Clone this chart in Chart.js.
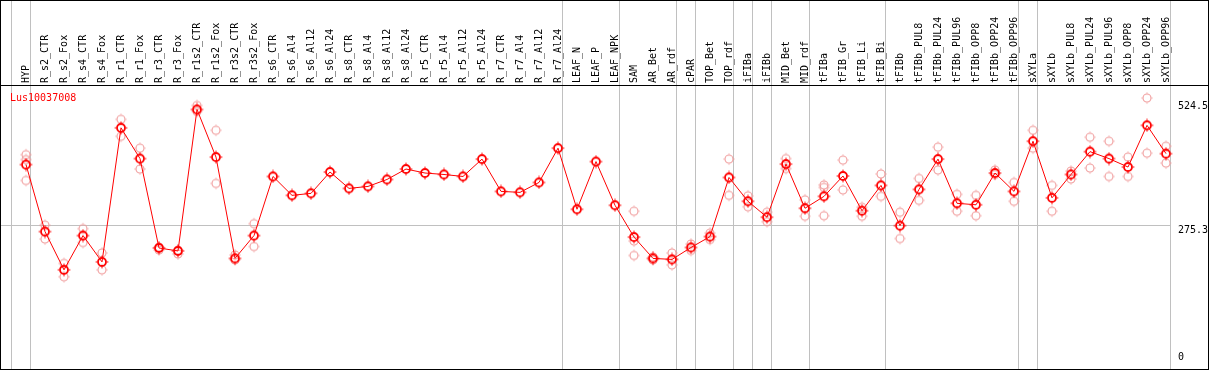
<!DOCTYPE html>
<html>
<head>
<meta charset="utf-8">
<script src="https://cdn.jsdelivr.net/npm/chart.js@4"></script>
<style>
  html, body { margin: 0; padding: 0; background: #fff; }
  #wrap { width: 1209px; height: 370px; }
</style>
</head>
<body>
<div id="wrap"><canvas id="expr-chart" width="1209" height="370"></canvas></div>
<script>
// sample names, left to right
const samples = ['HYP', 'R_s2_CTR', 'R_s2_Fox', 'R_s4_CTR', 'R_s4_Fox', 'R_r1_CTR', 'R_r1_Fox', 'R_r3_CTR', 'R_r3_Fox',
  'R_r1s2_CTR', 'R_r1s2_Fox', 'R_r3s2_CTR', 'R_r3s2_Fox', 'R_s6_CTR', 'R_s6_Al4', 'R_s6_Al12', 'R_s6_Al24',
  'R_s8_CTR', 'R_s8_Al4', 'R_s8_Al12', 'R_s8_Al24', 'R_r5_CTR', 'R_r5_Al4', 'R_r5_Al12', 'R_r5_Al24',
  'R_r7_CTR', 'R_r7_Al4', 'R_r7_Al12', 'R_r7_Al24', 'LEAF_N', 'LEAF_P', 'LEAF_NPK', 'SAM', 'AR_Bet', 'AR_rdf',
  'cPAR', 'TOP_Bet', 'TOP_rdf', 'iFIBa', 'iFIBb', 'MID_Bet', 'MID_rdf', 'tFIBa', 'tFIB_Gr', 'tFIB_Li', 'tFIB_Bi',
  'tFIBb', 'tFIBb_PUL8', 'tFIBb_PUL24', 'tFIBb_PUL96', 'tFIBb_OPP8', 'tFIBb_OPP24', 'tFIBb_OPP96',
  'sXYLa', 'sXYLb', 'sXYLb_PUL8', 'sXYLb_PUL24', 'sXYLb_PUL96', 'sXYLb_OPP8', 'sXYLb_OPP24', 'sXYLb_OPP96'];

// mean expression
const meanVals = [398, 263, 186, 255, 202, 472, 410, 230, 224, 509, 413, 209, 255,
  374, 336, 340, 383, 350, 354, 368, 389, 381, 378, 374, 409, 344, 342, 362, 431,
  308, 404, 316, 252, 209, 207, 231, 253, 372, 324, 292, 399, 310,
  334, 375, 305, 356, 275, 348, 409, 320, 317, 381, 344,
  445, 331, 378, 424, 410, 393, 477, 420];

// replicates (null = hidden behind the mean marker)
const rep1 = [418, 276, 199, 269, 220, 489, 431, 232, 226, 517, 467, 216, 279,
  null, null, null, null, null, null, null, null, null, null, null, null, null, null, null, null,
  null, null, null, 304, 212, 220, 238, 260, 409, 335, 302, 410, 327,
  357, 407, 312, 379, 302, 370, 433, 338, 336, 387, 362,
  467, 356, 385, 453, 445, 413, 532, 435];
const rep2 = [366, 248, 172, 241, 186, 455, 389, 226, 218, 505, 360, 206, 233,
  null, null, null, null, null, null, null, null, null, null, null, null, null, null, null, null,
  null, null, null, 215, 206, 196, 225, 247, 336, 313, 283, 390, 294,
  295, 347, 294, 334, 249, 326, 387, 304, 295, 378, 324,
  431, 304, 369, 391, 374, 374, 421, 401];
const rep3 = [408, null, null, null, null, null, null, null, null, null, null, null, null,
  null, null, null, null, null, null, null, null, null, null, null, null, null, null, null, null,
  null, null, null, 244, null, null, null, null, null, null, null, null, null,
  352, null, null, null, null, null, null, null, null, null, null,
  null, null, null, null, null, null, null, null];

// group separators sit just right of these sample indexes
const groupEnds = [-1, 0, 28, 31, 34, 35, 37, 38, 39, 41, 45, 52, 53, 60];
const yTicks = [524.5, 275.3, 0];
const geneName = 'Lus10037008';

const monoFont = '10px "DejaVu Sans Mono", monospace';

function makeMarker(color, lw, tick) {
    let c = document.createElement('canvas');
    c.width = 14;
    c.height = 14;
    let g = c.getContext('2d');
    g.strokeStyle = color;
    g.lineWidth = lw;
    g.beginPath();
    g.arc(7, 7, 4, 0, Math.PI * 2);
    g.stroke();
    g.fillStyle = color;
    // little ticks on the ring
    g.fillRect(6.5, 3 - tick - lw / 2, 1, tick);
    g.fillRect(6.5, 11 + lw / 2, 1, tick);
    g.fillRect(3 - tick - lw / 2, 6.5, tick, 1);
    g.fillRect(11 + lw / 2, 6.5, tick, 1);
    return c;
}

const redMark = makeMarker('#ff0000', 1.8, 1.5);
const pinkMark = makeMarker('#f09a9a', 1.1, 1);

const framePlugin = {
    id: 'frame',
    beforeDraw(chart) {
        const ctx = chart.ctx;
        const xs = chart.scales.x;
        const ys = chart.scales.y;
        ctx.save();
        ctx.fillStyle = '#c0c0c0';
        let rightSep = 1170;
        groupEnds.forEach(i => {
            let px = Math.round(xs.getPixelForValue(i) + 4);
            ctx.fillRect(px, 0, 1, 369);
            if (i === samples.length - 1) rightSep = px;
        });
        ctx.fillRect(0, Math.round(ys.getPixelForValue(275.3)), rightSep, 1);
        ctx.restore();
    },
    afterDraw(chart) {
        const ctx = chart.ctx;
        const ys = chart.scales.y;
        ctx.save();
        ctx.fillStyle = '#000';
        ctx.fillRect(0, 0, 1209, 1);
        ctx.fillRect(0, 85, 1209, 1);
        ctx.fillRect(0, 369, 1209, 1);
        ctx.fillRect(0, 0, 1, 370);
        ctx.fillRect(1208, 0, 1, 370);

        ctx.font = monoFont;
        ctx.textAlign = 'left';
        ctx.textBaseline = 'middle';
        yTicks.forEach(v => {
            let py = ys.getPixelForValue(v);
            py += v === 0 ? -5 : 5;
            ctx.fillText(String(v), 1178, py);
        });

        ctx.fillStyle = '#ff0000';
        ctx.textBaseline = 'alphabetic';
        ctx.fillText(geneName, 10, 101);
        ctx.restore();
    }
};

let ctx = document.getElementById('expr-chart');

function repSet(vals) {
    return {
        data: vals,
        showLine: false,
        pointStyle: pinkMark,
        pointRadius: 5,
        order: 2
    };
}

let myChart = new Chart(ctx, {
    type: 'line',
    data: {
        labels: samples,
        datasets: [
            {
                data: meanVals,
                borderColor: '#ff0000',
                borderWidth: 1,
                fill: false,
                tension: 0,
                pointStyle: redMark,
                pointRadius: 5,
                order: 1
            },
            repSet(rep1),
            repSet(rep2),
            repSet(rep3)
        ]
    },
    options: {
        responsive: false,
        animation: false,
        events: [],
        layout: { padding: { left: 16.5, right: 0, top: 0, bottom: 1 } },
        plugins: {
            legend: { display: false },
            tooltip: { enabled: false }
        },
        scales: {
            x: {
                position: 'top',
                offset: true,
                afterFit(scale) { scale.height = 86; },
                grid: { display: false, drawTicks: false },
                border: { display: false },
                ticks: {
                    autoSkip: false,
                    minRotation: 90,
                    maxRotation: 90,
                    padding: 3,
                    labelOffset: 12,
                    color: '#000',
                    font: { family: '"DejaVu Sans Mono", monospace', size: 10 }
                }
            },
            y: {
                position: 'right',
                min: -3.6,
                max: 556.2,
                afterFit(scale) { scale.width = 33.5; },
                grid: { display: false },
                border: { display: false },
                ticks: { display: false }
            }
        }
    },
    plugins: [framePlugin]
});
</script>
</body>
</html>
